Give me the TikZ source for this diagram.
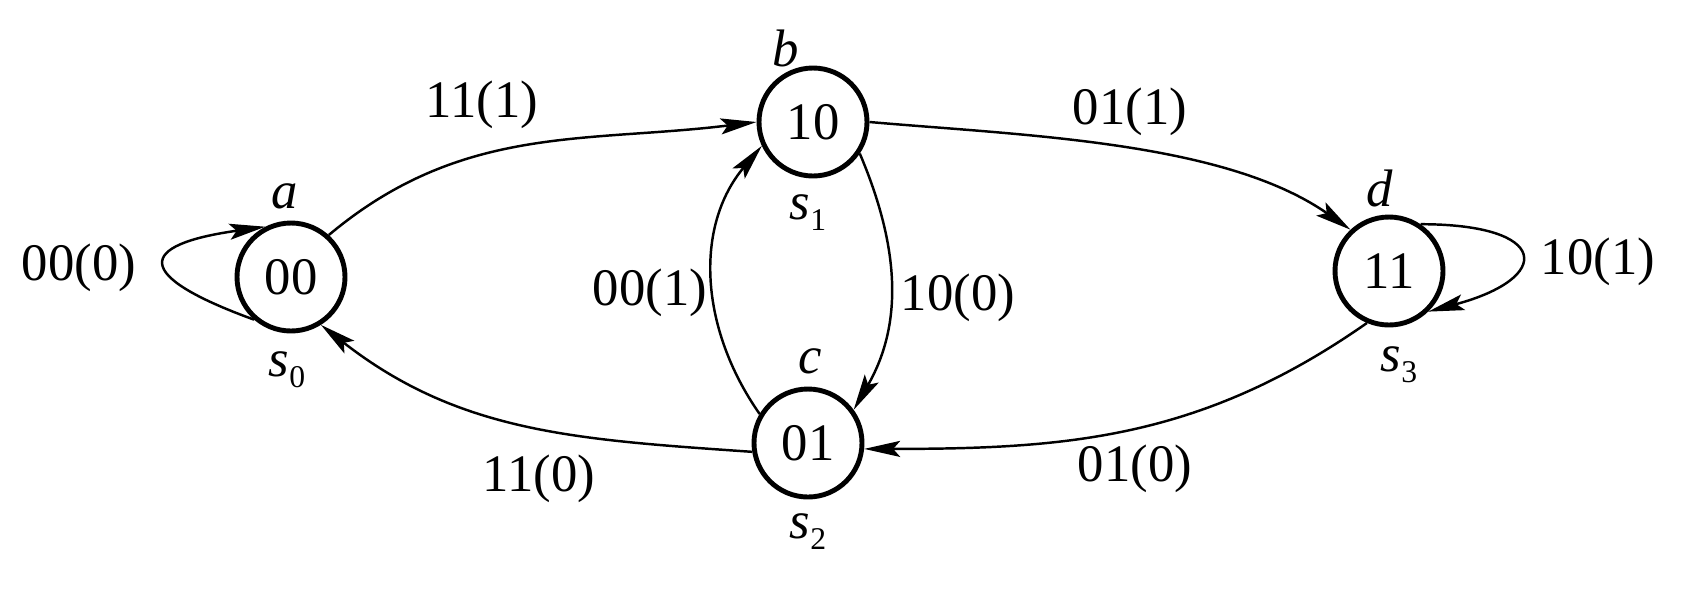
\documentclass[tikz,border=0pt]{standalone}
\usepackage{fontspec}
\setmainfont{Liberation Serif}
\usetikzlibrary{arrows.meta}

\begin{document}
\begin{tikzpicture}[
        font=\fontsize{15}{18}\selectfont,
        state/.style={circle, draw, line width=1.4pt, minimum size=1.08cm, inner sep=0pt},
        edge/.style={-{Stealth[length=3.6mm, width=1.6mm, inset=0.7mm]}, line width=0.7pt}
    ]
        \useasboundingbox (0,0) rectangle (16.94,5.99);

        % 状态
        \node[state] (a) at (2.91,3.22) {00};
        \node[state] (b) at (8.13,4.77) {10};
        \node[state] (c) at (8.08,1.56) {01};
        \node[state] (d) at (13.89,3.28) {11};

        % 状态名
        \node (na) at (2.85,4.03) {\textit{a}};
        \node (nb) at (7.86,5.51) {\textit{b}};
        \node (nc) at (8.10,2.38) {\textit{c}};
        \node (nd) at (13.80,4.11) {\textit{d}};
        \node (s0) at (2.87,2.29) {\textit{s}\raisebox{-0.45ex}{\small 0}};
        \node (s1) at (8.08,3.86) {\textit{s}\raisebox{-0.45ex}{\small 1}};
        \node (s2) at (8.08,0.67) {\textit{s}\raisebox{-0.45ex}{\small 2}};
        \node (s3) at (13.99,2.34) {\textit{s}\raisebox{-0.45ex}{\small 3}};

        % 转移
        \draw[edge] (a.229) to[out=160, in=188, distance=1.3cm] (a.117);
        \draw[edge] (a.48) to[out=40, in=187] (b.180);
        \draw[edge] (b.0) to[out=-5, in=145, looseness=0.8] (d.133);
        \draw[edge] (d.56) to[out=0, in=15, distance=1.3cm] (d.314);
        \draw[edge] (d.247) to[out=215, in=0] (c.354);
        \draw[edge] (c.189) to[out=176, in=322] (a.302);
        \draw[edge] (b.326) to[out=293, in=60] (c.36);
        \draw[edge] (c.149) to[out=125, in=230] (b.205);

        % 输入(输出)
        \node (l00a) at (0.79,3.31) {00(0)};
        \node (l11a) at (4.82,4.94) {11(1)};
        \node (l00b) at (6.50,3.06) {00(1)};
        \node (l11c) at (5.39,1.20) {11(0)};
        \node (l01b) at (11.30,4.87) {01(1)};
        \node (l10b) at (9.58,3.01) {10(0)};
        \node (l10d) at (15.98,3.37) {10(1)};
        \node (l01d) at (11.35,1.30) {01(0)};
\end{tikzpicture}
\end{document}
